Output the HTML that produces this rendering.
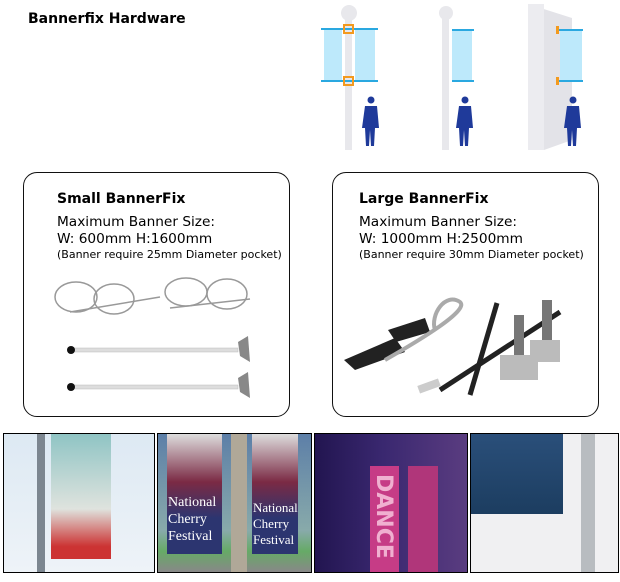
<!DOCTYPE html>
<html><head><style>
body{margin:0;width:620px;height:582px;background:#fff;position:relative;overflow:hidden;font-family:"DejaVu Sans","Liberation Sans",sans-serif;color:#000}
.t{position:absolute;white-space:nowrap}
.card{position:absolute;top:172px;width:265px;height:243px;border:1.5px solid #111;border-radius:14px}
.ph{position:absolute;top:433px;height:138px;border:1px solid #000;overflow:hidden}
</style></head><body>
<div class="t" style="left:28px;top:11px;font-weight:bold;font-size:14px">Bannerfix Hardware</div>

<svg style="position:absolute;left:0;top:0" width="620" height="160">
 <circle cx="349" cy="13" r="8" fill="#e8e8ec"/>
 <rect x="345" y="18" width="7" height="132" fill="#e8e8ec"/>
 <rect x="324" y="29" width="18" height="52" fill="#bde9fb"/><rect x="355" y="29" width="20" height="52" fill="#bde9fb"/>
 <rect x="321" y="28" width="57" height="2" fill="#2aa8e0"/><rect x="321" y="80" width="57" height="2" fill="#2aa8e0"/>
 <rect x="344" y="25" width="9" height="8" fill="none" stroke="#f39a1e" stroke-width="2"/>
 <rect x="344" y="77" width="9" height="8" fill="none" stroke="#f39a1e" stroke-width="2"/>
 <circle cx="446" cy="13" r="7" fill="#e8e8ec"/>
 <rect x="442" y="18" width="7" height="132" fill="#e8e8ec"/>
 <rect x="452" y="30" width="20" height="51" fill="#bde9fb"/>
 <rect x="452" y="29" width="22" height="2" fill="#2aa8e0"/><rect x="452" y="80" width="22" height="2" fill="#2aa8e0"/>
 <polygon points="528,4 572,18 572,140 544,150 528,150" fill="#e3e3e8"/>
 <rect x="528" y="4" width="16" height="146" fill="#ececf0"/>
 <rect x="560" y="29" width="22" height="52" fill="#bde9fb"/>
 <rect x="558" y="29" width="25" height="2" fill="#2aa8e0"/><rect x="558" y="80" width="25" height="2" fill="#2aa8e0"/>
 <rect x="556" y="26" width="3" height="8" fill="#f39a1e"/><rect x="556" y="77" width="3" height="8" fill="#f39a1e"/>
 <g fill="#1f3a9a">
  <circle cx="371" cy="100" r="3.5"/><path d="M365 106h12l2 22h-4l-1 18h-3l-1-16-1 16h-3l-1-18h-3z"/>
  <circle cx="465" cy="100" r="3.5"/><path d="M459 106h12l2 22h-4l-1 18h-3l-1-16-1 16h-3l-1-18h-3z"/>
  <circle cx="573" cy="100" r="3.5"/><path d="M567 106h12l2 22h-4l-1 18h-3l-1-16-1 16h-3l-1-18h-3z"/>
 </g>
</svg>

<div class="card" style="left:23px"></div>
<div class="card" style="left:332px"></div>
<div class="t" style="left:57px;top:191px;font-weight:bold;font-size:14px">Small BannerFix</div>
<div class="t" style="left:57px;top:214px;font-size:13.7px;line-height:17px">Maximum Banner Size:<br>W: 600mm H:1600mm</div>
<div class="t" style="left:57px;top:248px;font-size:11px">(Banner require 25mm Diameter pocket)</div>
<div class="t" style="left:359px;top:191px;font-weight:bold;font-size:14px">Large BannerFix</div>
<div class="t" style="left:359px;top:214px;font-size:13.7px;line-height:17px">Maximum Banner Size:<br>W: 1000mm H:2500mm</div>
<div class="t" style="left:359px;top:248px;font-size:11px">(Banner require 30mm Diameter pocket)</div>

<svg style="position:absolute;left:0;top:270px" width="620" height="140">
 <g fill="none" stroke="#999" stroke-width="1.5">
  <ellipse cx="76" cy="27" rx="21" ry="15"/><ellipse cx="114" cy="29" rx="20" ry="15"/>
  <ellipse cx="186" cy="22" rx="21" ry="14"/><ellipse cx="227" cy="24" rx="20" ry="15"/>
  <path d="M70 42l90-15M170 38l80-9"/>
 </g>
 <rect x="70" y="78" width="168" height="4" fill="#ddd" stroke="#bbb" stroke-width=".5"/>
 <rect x="70" y="115" width="168" height="4" fill="#ddd" stroke="#bbb" stroke-width=".5"/>
 <circle cx="71" cy="80" r="4" fill="#111"/><circle cx="71" cy="117" r="4" fill="#111"/>
 <polygon points="238,72 248,66 250,92 240,86" fill="#888"/>
 <polygon points="238,108 248,102 250,128 240,122" fill="#888"/>
 <polygon points="344,90 395,68 405,82 355,100" fill="#222"/>
 <polygon points="388,60 425,48 430,62 396,72" fill="#222"/>
 <path d="M385 90 C420 70 470 40 460 32 C445 22 430 45 435 60" fill="none" stroke="#aaa" stroke-width="4"/>
 <line x1="497" y1="33" x2="470" y2="125" stroke="#222" stroke-width="5"/>
 <line x1="560" y1="42" x2="440" y2="120" stroke="#222" stroke-width="5"/>
 <rect x="418" y="112" width="22" height="8" fill="#ccc" transform="rotate(-20 429 116)"/>
 <g fill="#777"><rect x="514" y="45" width="10" height="45"/><rect x="542" y="30" width="10" height="45"/></g>
 <g fill="#bbb"><rect x="500" y="85" width="38" height="25"/><rect x="530" y="70" width="30" height="22"/></g>
</svg>

<div class="ph" style="left:3px;width:150px;background:linear-gradient(#dde9f3,#eef3f8)">
 <div style="position:absolute;left:33px;top:-2px;width:8px;height:140px;background:#7c8690"></div>
 <div style="position:absolute;left:47px;top:0;width:60px;height:125px;background:linear-gradient(#8fc4c4,#dfe3de 60%,#c33 90%)"></div>
</div>
<div class="ph" style="left:157px;width:153px;background:linear-gradient(#5d7fa8,#8aa 70%,#6a6 85%,#888)">
 <div style="position:absolute;left:73px;top:0;width:16px;height:140px;background:#b0a898"></div>
 <div style="position:absolute;left:9px;top:0;width:55px;height:120px;background:linear-gradient(#ddd,#7b2a44 40%,#2c3570 70%)"></div>
 <div style="position:absolute;left:94px;top:0;width:46px;height:120px;background:linear-gradient(#ddd,#7b2a44 40%,#2c3570 70%)"></div>
 <div class="t" style="left:10px;top:60px;color:#fff;font-family:'Liberation Serif',serif;font-size:14px;line-height:17px">National<br>Cherry<br>Festival</div>
 <div class="t" style="left:95px;top:66px;color:#fff;font-family:'Liberation Serif',serif;font-size:13px;line-height:16px">National<br>Cherry<br>Festival</div>
</div>
<div class="ph" style="left:314px;width:152px;background:linear-gradient(90deg,#221550,#3a2870 45%,#5a3c80)">
 <div style="position:absolute;left:55px;top:32px;width:29px;height:110px;background:#c63c86"></div>
 <div style="position:absolute;left:93px;top:32px;width:30px;height:110px;background:#b0367a"></div>
 <div class="t" style="left:56px;top:40px;color:#f0b0d0;font-weight:bold;font-size:22px;writing-mode:vertical-rl">DANCE</div>
</div>
<div class="ph" style="left:470px;width:147px;background:#f0f0f2">
 <div style="position:absolute;left:0;top:0;width:92px;height:80px;background:linear-gradient(#2a4f7a,#1c3d60)"></div>
 <div style="position:absolute;left:110px;top:0;width:14px;height:140px;background:#b8bcc0"></div>
</div>
</body></html>
